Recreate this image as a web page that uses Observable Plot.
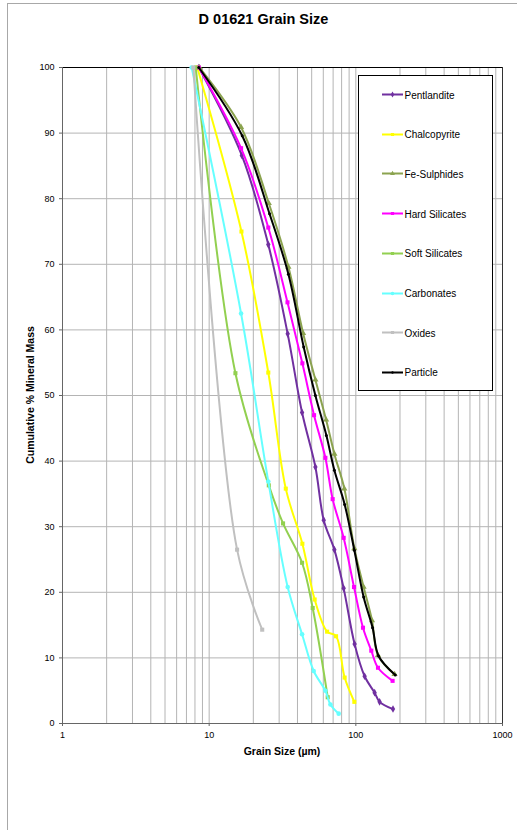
<!DOCTYPE html>
<html>
<head>
<meta charset="utf-8">
<script src="https://cdn.jsdelivr.net/npm/d3@7"></script>
<script src="https://cdn.jsdelivr.net/npm/@observablehq/plot@0.6"></script>
<style>
  body { margin: 0; background: #fff; font-family: "Liberation Sans", Arial, sans-serif; }
  #wrap { position: relative; width: 517px; height: 830px; overflow: hidden; background: #fff; }
  #outer { position: absolute; left: 7px; top: 3px; width: 700px; height: 1000px; border-left: 1px solid #a8a8a8; border-top: 1px solid #a8a8a8; }
  #chart { position: absolute; left: 0; top: 0; }
  #title { position: absolute; left: 0; top: 10px; width: 527px; line-height: 18px; text-align: center; font-weight: bold; font-size: 14.5px; color: #000; }
  #ylabel { position: absolute; left: 30px; top: 395px; transform: translate(-50%, -50%) rotate(-90deg); white-space: nowrap; font-weight: bold; font-size: 10.5px; color: #000; }
  #xlabel { position: absolute; left: 282px; top: 751px; transform: translate(-50%, -50%); white-space: nowrap; font-weight: bold; font-size: 10.5px; color: #000; }
  #legend { position: absolute; left: 358px; top: 75px; width: 135px; height: 316px; box-sizing: border-box; border: 1px solid #000; background: #fff; }
  .lrow { position: absolute; left: 23px; transform: translateY(-50%); display: flex; align-items: center; font-size: 10px; color: #000; white-space: nowrap; }
  .lrow svg { margin-right: 1.5px; display: block; }
</style>
</head>
<body>
<div id="wrap">
  <div id="outer"></div>
  <div id="chart"></div>
  <div id="title">D 01621 Grain Size</div>
  <div id="ylabel">Cumulative % Mineral Mass</div>
  <div id="xlabel">Grain Size (µm)</div>
  <div id="legend"></div>
</div>
<script>
// ---- data ----
const seriesNames = ["Pentlandite", "Chalcopyrite", "Fe-Sulphides", "Hard Silicates", "Soft Silicates", "Carbonates", "Oxides", "Particle"];
const seriesColors = ["#7030A0", "#FFFF00", "#8BA34F", "#FF00FF", "#92D050", "#66FFFF", "#C0C0C0", "#000000"];
const seriesSymbols = ["diamond", "square", "triangle", "square", "square", "circle", "square", "circle"];

const sizePentlandite = [8.5, 16.7, 25.3, 34.3, 43.0, 53.0, 60.4, 71.4, 82.6, 98.1, 114.8, 134.3, 145.2, 179.2];
const cumPentlandite  = [100, 86.6, 73.0, 59.4, 47.4, 39.1, 31.0, 26.5, 20.6, 12.1, 7.2, 4.7, 3.3, 2.2];

const sizeChalcopyrite = [8.3, 16.6, 25.3, 33.3, 43.2, 52.4, 63.7, 73.3, 83.9, 97.7];
const cumChalcopyrite  = [100, 75.0, 53.5, 35.8, 27.4, 18.9, 14.0, 13.3, 7.0, 3.3];

const sizeFeSulphides = [8.6, 16.5, 25.5, 34.7, 43.7, 53.0, 62.7, 71.4, 83.5, 97.7, 113.0, 128.9, 141.6, 183.7];
const cumFeSulphides  = [100, 90.9, 79.3, 69.6, 59.5, 52.4, 46.3, 41.1, 35.8, 26.7, 20.8, 15.7, 10.4, 7.5];

const sizeHardSilicates = [8.5, 16.5, 25.3, 34.2, 43.2, 51.9, 62.0, 69.5, 82.6, 97.2, 111.9, 127.5, 141.6, 178.1];
const cumHardSilicates  = [100, 87.7, 75.6, 64.2, 54.9, 47.0, 40.5, 34.2, 28.3, 20.8, 14.6, 11.1, 8.5, 6.5];

const sizeSoftSilicates = [8.1, 15.1, 25.5, 31.9, 43.0, 50.8, 64.3];
const cumSoftSilicates  = [100, 53.4, 36.3, 30.5, 24.5, 17.6, 4.0];

const sizeCarbonates = [7.6, 16.5, 25.3, 34.3, 43.0, 51.6, 62.0, 67.1, 76.4];
const cumCarbonates  = [100, 62.5, 36.9, 20.8, 13.6, 8.0, 5.0, 2.9, 1.5];

const sizeOxides = [7.8, 15.5, 23.0];
const cumOxides  = [100, 26.5, 14.3];

const sizeParticle = [8.5, 16.8, 25.8, 34.7, 44.1, 53.0, 63.0, 71.4, 83.9, 97.7, 113.0, 130.1, 142.9, 185.7];
const cumParticle  = [100, 89.6, 77.7, 68.5, 57.4, 50.0, 43.9, 38.6, 33.4, 26.4, 19.3, 14.6, 10.3, 7.4];

const xTicks = [1, 10, 100, 1000];
const yTicks = [0, 10, 20, 30, 40, 50, 60, 70, 80, 90, 100];
const xGrid = [2, 3, 4, 5, 6, 7, 8, 9, 10, 20, 30, 40, 50, 60, 70, 80, 90, 100, 200, 300, 400, 500, 600, 700, 800, 900];
const yGrid = [10, 20, 30, 40, 50, 60, 70, 80, 90];

// ---- build table ----
const seriesData = [
  [sizePentlandite, cumPentlandite],
  [sizeChalcopyrite, cumChalcopyrite],
  [sizeFeSulphides, cumFeSulphides],
  [sizeHardSilicates, cumHardSilicates],
  [sizeSoftSilicates, cumSoftSilicates],
  [sizeCarbonates, cumCarbonates],
  [sizeOxides, cumOxides],
  [sizeParticle, cumParticle]
];
const rows = [];
seriesNames.forEach((name, i) => {
  const [xs, ys] = seriesData[i];
  xs.forEach((x, j) => rows.push({series: name, size: x, cum: ys[j]}));
});

const font = '"Liberation Sans", Arial, sans-serif';
const seriesMarks = [];
seriesNames.forEach((name, i) => {
  const d = rows.filter(r => r.series === name);
  seriesMarks.push(Plot.line(d, {x: "size", y: "cum", stroke: "series", strokeWidth: 2, curve: "catmull-rom"}));
  seriesMarks.push(Plot.dot(d, {x: "size", y: "cum", fill: "series", symbol: "series", r: name === "Particle" ? 1.5 : 2.3, stroke: "none"}));
});

const chart = Plot.plot({
  width: 517,
  height: 830,
  marginLeft: 62,
  marginRight: 15,
  marginTop: 67,
  marginBottom: 107,
  style: {fontFamily: font, fontSize: "9px", color: "#000", background: "transparent"},
  x: {type: "log", domain: [1, 1000]},
  y: {domain: [0, 100]},
  color: {domain: seriesNames, range: seriesColors},
  symbol: {domain: seriesNames, range: seriesSymbols},
  marks: [
    Plot.ruleX(xGrid, {stroke: "#b4b4b4", strokeWidth: 1}),
    Plot.ruleY(yGrid, {stroke: "#b4b4b4", strokeWidth: 1}),
    Plot.axisX({ticks: xTicks, tickFormat: d => String(d), tickSize: 3, tickPadding: 5, label: null, stroke: "#666"}),
    Plot.axisY({ticks: yTicks, tickSize: 3, tickPadding: 5, label: null, stroke: "#666"}),
    Plot.ruleY([100], {stroke: "#000"}),
    Plot.ruleX([1000], {stroke: "#333"}),
    Plot.ruleX([1], {stroke: "#666"}),
    Plot.ruleY([0], {stroke: "#666"}),
    ...seriesMarks
  ]
});
document.getElementById("chart").appendChild(chart);

// ---- legend ----
const symMap = {diamond: d3.symbolDiamond, square: d3.symbolSquare, triangle: d3.symbolTriangle, circle: d3.symbolCircle};
const legend = d3.select("#legend");
seriesNames.forEach((name, i) => {
  const row = legend.append("div").attr("class", "lrow").style("top", (18.5 + i * 39.7) + "px");
  const svg = row.append("svg").attr("width", 21).attr("height", 8);
  svg.append("line").attr("x1", 0).attr("x2", 21).attr("y1", 4).attr("y2", 4)
    .attr("stroke", seriesColors[i]).attr("stroke-width", 2);
  const r = name === "Particle" ? 1.2 : 1.8;
  svg.append("path").attr("transform", "translate(10.5,4)")
    .attr("d", d3.symbol(symMap[seriesSymbols[i]], Math.PI * r * r)())
    .attr("fill", seriesColors[i]);
  row.append("span").text(name);
});
</script>
</body>
</html>
